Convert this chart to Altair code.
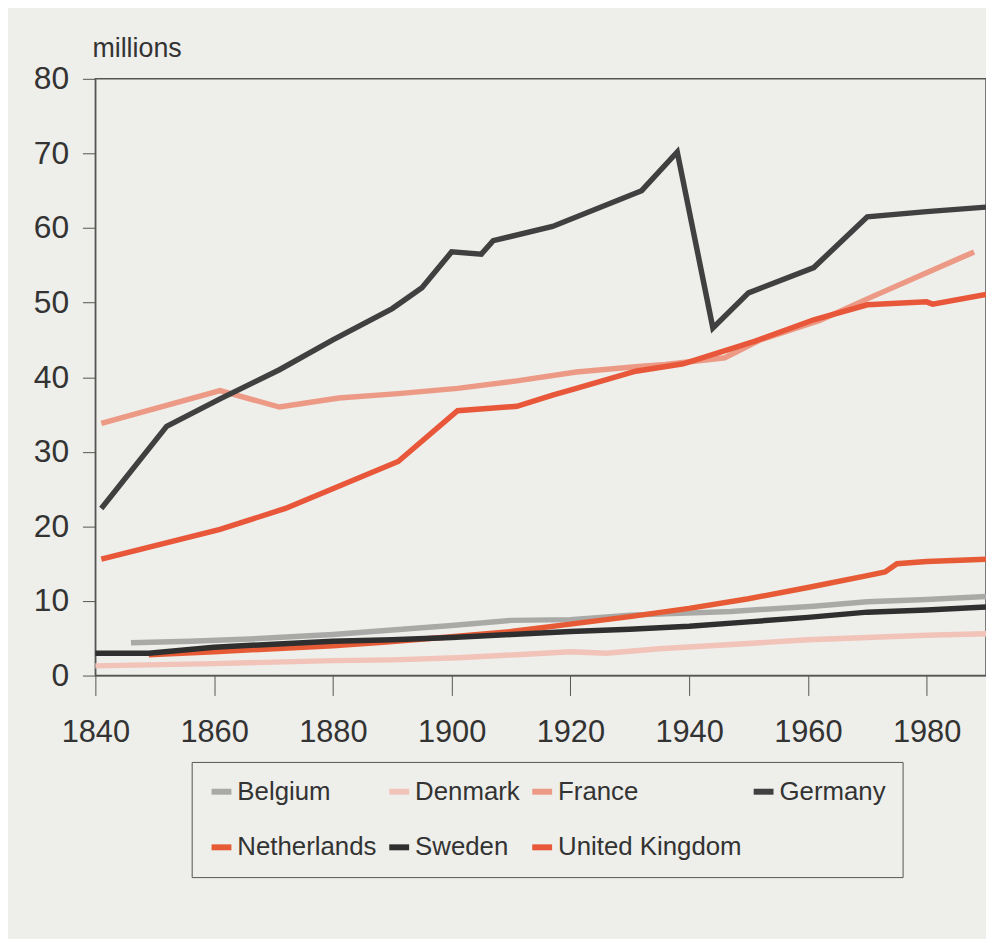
import altair as alt
import pandas as pd

countries = ["Belgium", "Denmark", "France", "Germany", "Netherlands", "Sweden", "United Kingdom"]
colors = ["#a9a9a7", "#f1c3b9", "#ec9a86", "#404040", "#e65b36", "#2f2f2f", "#e8573a"]

belgium_years = [1846, 1856, 1866, 1880, 1890, 1900, 1910, 1920, 1930, 1947, 1961, 1970, 1980, 1990]
belgium_vals = [4.4, 4.6, 4.9, 5.5, 6.1, 6.7, 7.4, 7.5, 8.1, 8.6, 9.3, 9.9, 10.2, 10.6]

denmark_years = [1840, 1860, 1880, 1890, 1901, 1911, 1920, 1926, 1935, 1950, 1960, 1970, 1980, 1990]
denmark_vals = [1.3, 1.6, 2.0, 2.1, 2.4, 2.8, 3.2, 3.0, 3.6, 4.3, 4.8, 5.1, 5.4, 5.6]

france_years = [1841, 1861, 1871, 1881, 1891, 1901, 1911, 1921, 1931, 1936, 1946, 1952, 1962, 1970, 1980, 1988]
france_vals = [33.8, 38.2, 36.0, 37.2, 37.8, 38.5, 39.5, 40.7, 41.4, 41.7, 42.6, 45.0, 47.6, 50.5, 54.0, 56.8]

germany_years = [1841, 1852, 1861, 1871, 1880, 1890, 1895, 1900, 1905, 1907, 1917, 1932, 1938, 1944, 1950, 1961, 1970, 1980, 1990]
germany_vals = [22.4, 33.4, 37.1, 41.0, 45.0, 49.2, 52.0, 56.8, 56.5, 58.3, 60.2, 65.0, 70.2, 46.6, 51.3, 54.7, 61.5, 62.2, 62.8]

netherlands_years = [1849, 1860, 1870, 1880, 1889, 1900, 1910, 1920, 1930, 1940, 1950, 1960, 1970, 1973, 1975, 1980, 1990]
netherlands_vals = [2.8, 3.2, 3.6, 4.0, 4.5, 5.2, 5.9, 6.9, 7.9, 9.0, 10.3, 11.8, 13.4, 13.9, 15.0, 15.3, 15.6]

sweden_years = [1840, 1849, 1860, 1870, 1880, 1890, 1900, 1910, 1920, 1930, 1940, 1950, 1960, 1970, 1980, 1990]
sweden_vals = [3.0, 3.0, 3.8, 4.2, 4.6, 4.8, 5.1, 5.5, 5.9, 6.2, 6.6, 7.2, 7.8, 8.5, 8.8, 9.2]

uk_years = [1841, 1861, 1872, 1891, 1901, 1911, 1917, 1921, 1931, 1939, 1951, 1961, 1970, 1980, 1981, 1990]
uk_vals = [15.6, 19.6, 22.4, 28.7, 35.5, 36.1, 37.6, 38.5, 40.8, 41.8, 44.8, 47.7, 49.7, 50.1, 49.8, 51.1]

series = {
    "Belgium": (belgium_years, belgium_vals),
    "Denmark": (denmark_years, denmark_vals),
    "France": (france_years, france_vals),
    "Germany": (germany_years, germany_vals),
    "Netherlands": (netherlands_years, netherlands_vals),
    "Sweden": (sweden_years, sweden_vals),
    "United Kingdom": (uk_years, uk_vals),
}

x_ticks = [1840, 1860, 1880, 1900, 1920, 1940, 1960, 1980]
y_ticks = [0, 10, 20, 30, 40, 50, 60, 70, 80]

rows = []
for name, (ys, vs) in series.items():
    for yr, v in zip(ys, vs):
        rows.append({"country": name, "year": yr, "value": v})
df = pd.DataFrame(rows)

FONT = "Liberation Sans Narrow, Liberation Sans, Arial, sans-serif"
INK = "#333333"
PAPER = "#eeeeea"

chart = alt.Chart(df).mark_line(strokeWidth=5.5, strokeJoin="miter", strokeCap="butt").encode(
    x=alt.X("year:Q",
            scale=alt.Scale(domain=[1840, 1990], nice=False, zero=False),
            axis=alt.Axis(values=x_ticks, format="d", title=None, grid=False,
                          tickSize=20, labelPadding=22, labelFont=FONT, labelFontSize=31,
                          labelColor=INK, domainColor="#555555", tickColor="#555555",
                          labelFlush=False, labelOverlap=False)),
    y=alt.Y("value:Q",
            scale=alt.Scale(domain=[0, 80], nice=False),
            axis=alt.Axis(values=y_ticks, title=None, grid=False,
                          tickSize=13, labelPadding=14, labelFont=FONT, labelFontSize=32,
                          labelColor=INK, domainColor="#555555", tickColor="#555555",
                          labelFlush=False, labelOverlap=False)),
    color=alt.Color("country:N",
                    scale=alt.Scale(domain=countries, range=colors),
                    legend=alt.Legend(orient="none", legendX=97, legendY=688, columns=4,
                                      direction="horizontal", title=None,
                                      symbolType="stroke", symbolStrokeWidth=6, symbolSize=400,
                                      labelFont=FONT, labelFontSize=26, labelColor=INK,
                                      labelOffset=3, labelLimit=400,
                                      columnPadding=0, rowPadding=30, padding=17,
                                      strokeColor="#555555")),
    order=alt.Order("year:Q"),
).properties(
    width=897,
    height=601,
    title=alt.TitleParams("millions", anchor="start", frame="group", offset=0, dx=-3,
                          font=FONT, fontSize=27, fontWeight="normal", color=INK),
    autosize=alt.AutoSizeParams(type="none"),
    padding={"left": 88, "top": 68, "right": 0, "bottom": 262},
    background=PAPER,
).configure_view(
    stroke="#555555", strokeWidth=1.5
)

chart.save("out.html", embed_options={"renderer": "svg", "actions": False})
